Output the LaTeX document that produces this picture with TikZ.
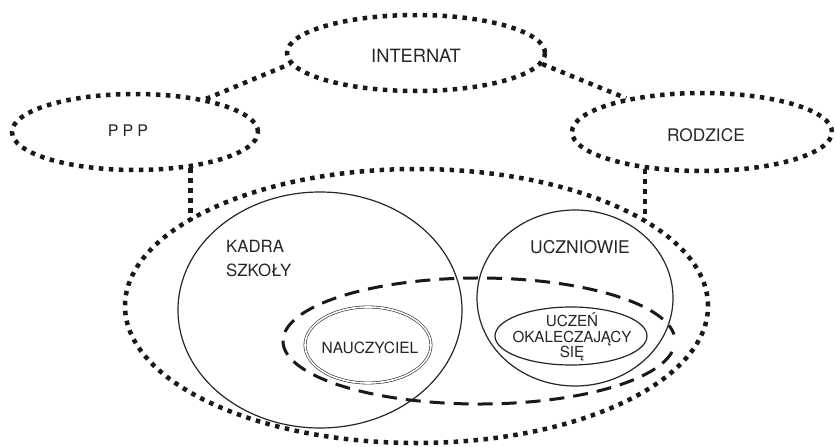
\documentclass[tikz,border=0pt]{standalone}
\usepackage{fontspec}
\setmainfont{TeX Gyre Heros}
\usetikzlibrary{shapes.geometric}
\tikzset{
  dotline/.style={line width=4.5pt, dash pattern=on 4.5pt off 5.5pt, draw=black!90},
  dotell/.style={ellipse, dotline, inner sep=0pt},
  thinell/.style={ellipse, draw=black!85, line width=1.2pt, inner sep=0pt},
  dblell/.style={ellipse, draw=black!85, double, double distance=1.6pt, line width=0.6pt, inner sep=0pt},
  lbl/.style={text=black!85, inner sep=0pt, align=center},
  grpline/.style={line width=3pt, dash pattern=on 15pt off 9pt, draw=black!90},
}
\begin{document}
\begin{tikzpicture}[x=1pt,y=-1pt]
\useasboundingbox[fill=white] (0,0) rectangle (836,447);
% outer ellipses
\node[dotell, minimum width=258pt, minimum height=76pt] (internat) at (416,53) {};
\node[dotell, minimum width=246pt, minimum height=76pt] (ppp) at (135,132) {};
\node[dotell, minimum width=260pt, minimum height=78pt] (rodzice) at (702,132) {};
\node[dotell, minimum width=583pt, minimum height=274pt] (szkola) at (416.5,306) {};
% inner circles
\node[thinell, minimum width=284pt, minimum height=236pt] (kadra) at (320,310) {};
\node[thinell, minimum width=196pt, minimum height=176pt] (uczniowie) at (575,298) {};
\node[dblell, minimum width=126pt, minimum height=76pt] (nauczyciel) at (368,345) {};
\node[thinell, minimum width=152pt, minimum height=58pt] (uczen) at (571,336) {};
% dashed group
\coordinate (grp) at (479,341);
\draw[grpline] (grp) ++(10:196 and 63) arc[start angle=10, end angle=354, x radius=196, y radius=63];
% connectors
\draw[dotline] (ppp.25) -- (internat.185);
\draw[dotline] (internat.-5) -- (rodzice.156);
\draw[dotline] (ppp.-33) -- (ppp.-33 |- szkola.160);
\draw[dotline] (rodzice.213) -- (rodzice.213 |- szkola.20);
% labels
\node[lbl, font=\fontsize{18.3}{20}\selectfont] (tinternat) at (416,56) {INTERNAT};
\node[lbl, font=\fontsize{16}{20}\selectfont] (tppp) at (128,131) {P\kern4pt P\kern4pt P};
\node[lbl, font=\fontsize{17.3}{20}\selectfont] (trodzice) at (706,135) {RODZICE};
\node[lbl, anchor=west, align=left, font=\fontsize{16.8}{24}\selectfont] (tkadra) at (226,259) {KADRA\\SZKOŁY};
\node[lbl, font=\fontsize{17.5}{20}\selectfont] (tuczniowie) at (580,247) {UCZNIOWIE};
\node[lbl, font=\fontsize{15.5}{18}\selectfont] (tnauczyciel) at (370,348) {NAUCZYCIEL};
\node[lbl, font=\fontsize{15.2}{15.5}\selectfont] (tuczen) at (572,337) {UCZEŃ\\OKALECZAJĄCY\\SIĘ};
\end{tikzpicture}
\end{document}
